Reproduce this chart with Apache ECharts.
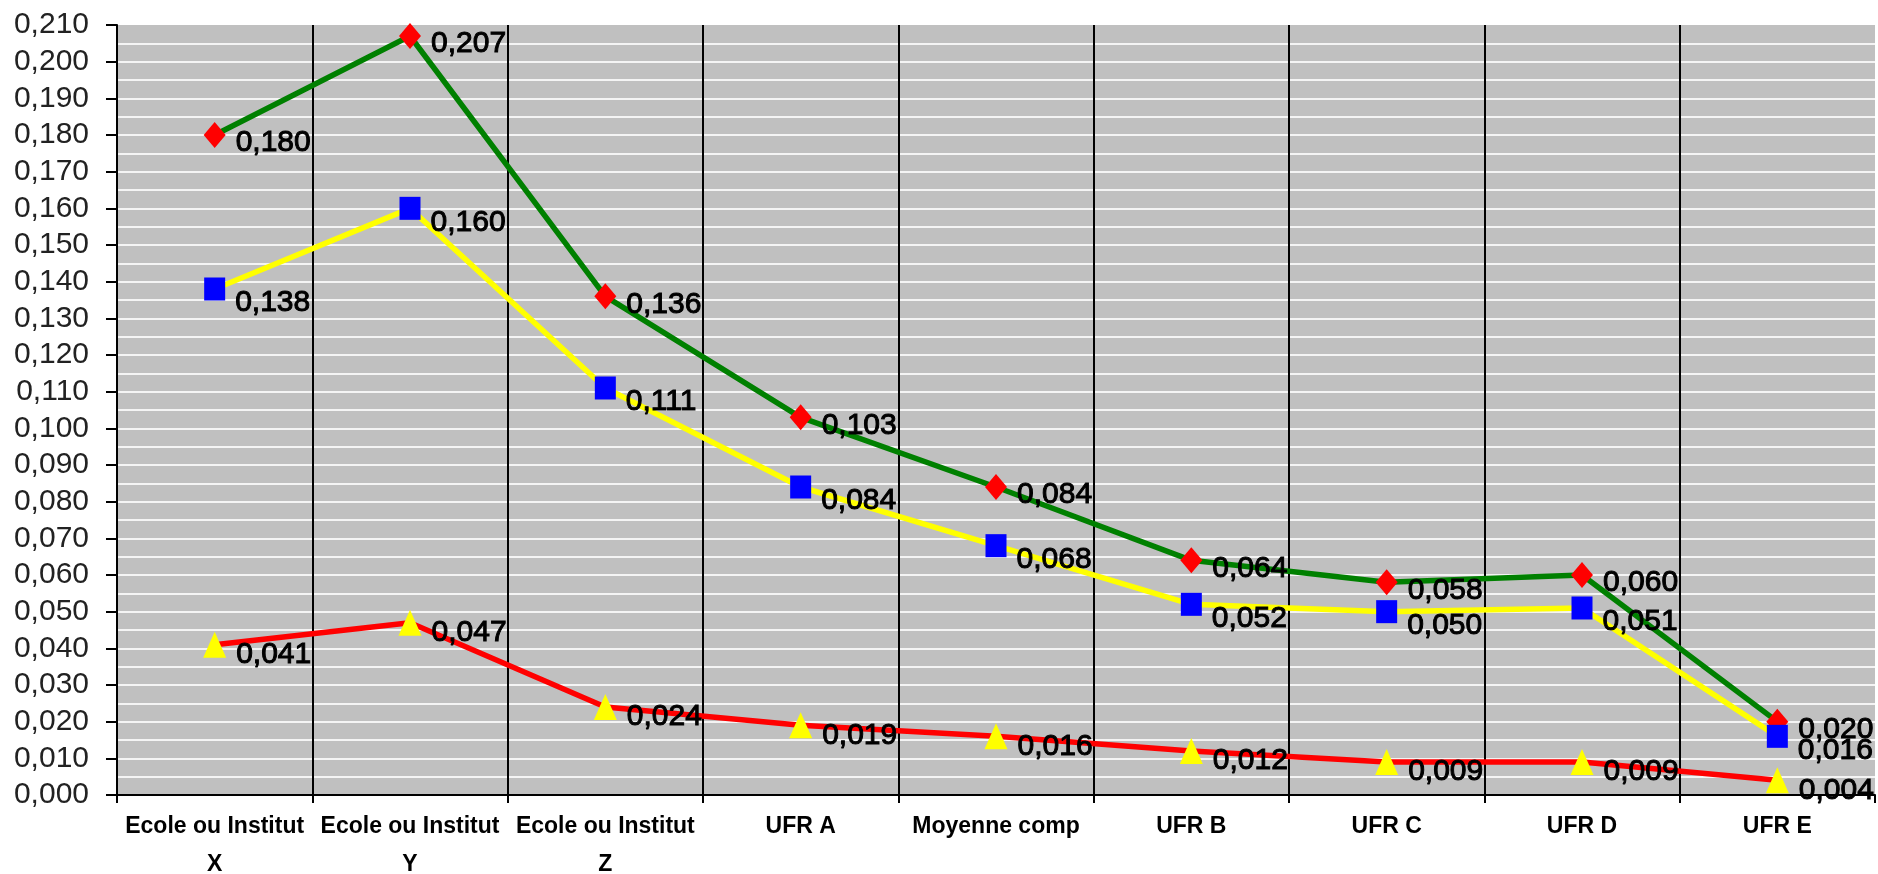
<!DOCTYPE html>
<html>
<head>
<meta charset="utf-8">
<script src="https://cdn.jsdelivr.net/npm/echarts@6/dist/echarts.min.js"></script>
<style>
html,body{margin:0;padding:0;background:#fff;}
#chart{width:1878px;height:874px;}
</style>
</head>
<body>
<div id="chart"></div>
<script>
const categories = ['Ecole ou Institut\nX', 'Ecole ou Institut\nY', 'Ecole ou Institut\nZ', 'UFR A', 'Moyenne comp', 'UFR B', 'UFR C', 'UFR D', 'UFR E'];
const seriesDiamond = [0.180, 0.207, 0.136, 0.103, 0.084, 0.064, 0.058, 0.060, 0.020];
const seriesSquare = [0.138, 0.160, 0.111, 0.084, 0.068, 0.052, 0.050, 0.051, 0.016];
const seriesTriangle = [0.041, 0.047, 0.024, 0.019, 0.016, 0.012, 0.009, 0.009, 0.004];
const yMin = 0, yMax = 0.21, yStep = 0.01, yGridStep = 0.005;

const fmt = v => Number(v).toFixed(3).replace('.', ',');
const FONT = '"Liberation Sans", Arial, sans-serif';

function labelCfg(dy) {
  return {
    show: true, position: 'right', distance: 5, offset: [5, dy],
    color: '#000', fontFamily: FONT, fontWeight: 'normal', fontSize: 30,
    textBorderColor: '#000', textBorderWidth: 1,
    formatter: p => fmt(p.value)
  };
}

const chart = echarts.init(document.getElementById('chart'), null, {renderer: 'canvas'});
chart.setOption({
  animation: false,
  backgroundColor: '#ffffff',
  grid: {left: 117, top: 25, right: 3, bottom: 79, show: true, backgroundColor: '#c0c0c0', borderWidth: 0, containLabel: false, outerBoundsMode: 'none'},
  xAxis: {
    type: 'category', data: categories, boundaryGap: true,
    axisLine: {show: true, lineStyle: {color: '#000', width: 2}},
    axisTick: {show: true, length: 8, lineStyle: {color: '#000', width: 2}},
    axisLabel: {color: '#000', fontFamily: FONT, fontWeight: 'bold', fontSize: 23, lineHeight: 38, margin: 13, interval: 0},
    splitLine: {show: true, showMinLine: false, showMaxLine: false, lineStyle: {color: '#000', width: 2}}
  },
  yAxis: [
    {
      type: 'value', min: yMin, max: yMax, interval: yStep, position: 'left',
      axisLine: {show: true, lineStyle: {color: '#000', width: 2}},
      axisTick: {show: true, length: 11, lineStyle: {color: '#000', width: 2}},
      axisLabel: {color: '#222', fontFamily: FONT, fontSize: 30, margin: 28, formatter: v => fmt(v)},
      splitLine: {show: false},
      z: 3
    },
    {
      type: 'value', min: yMin, max: yMax, interval: yGridStep, position: 'left',
      axisLine: {show: false}, axisTick: {show: false}, axisLabel: {show: false},
      splitLine: {show: true, showMinLine: false, showMaxLine: false, lineStyle: {color: '#f4f4f4', width: 2}}
    }
  ],
  series: [
    {
      type: 'line', data: seriesDiamond, yAxisIndex: 0, symbol: 'diamond', symbolSize: [22, 26],
      lineStyle: {color: '#008000', width: 5.5}, itemStyle: {color: '#ff0000'},
      label: labelCfg(8), z: 2
    },
    {
      type: 'line', data: seriesSquare, yAxisIndex: 0, symbol: 'rect', symbolSize: [21, 23],
      lineStyle: {color: '#ffff00', width: 5.5}, itemStyle: {color: '#0000ff'},
      label: labelCfg(14), z: 3
    },
    {
      type: 'line', data: seriesTriangle, yAxisIndex: 0, symbol: 'triangle', symbolSize: [23, 26],
      lineStyle: {color: '#ff0000', width: 5.5}, itemStyle: {color: '#ffff00'},
      label: labelCfg(10), z: 4
    }
  ]
});
</script>
</body>
</html>
